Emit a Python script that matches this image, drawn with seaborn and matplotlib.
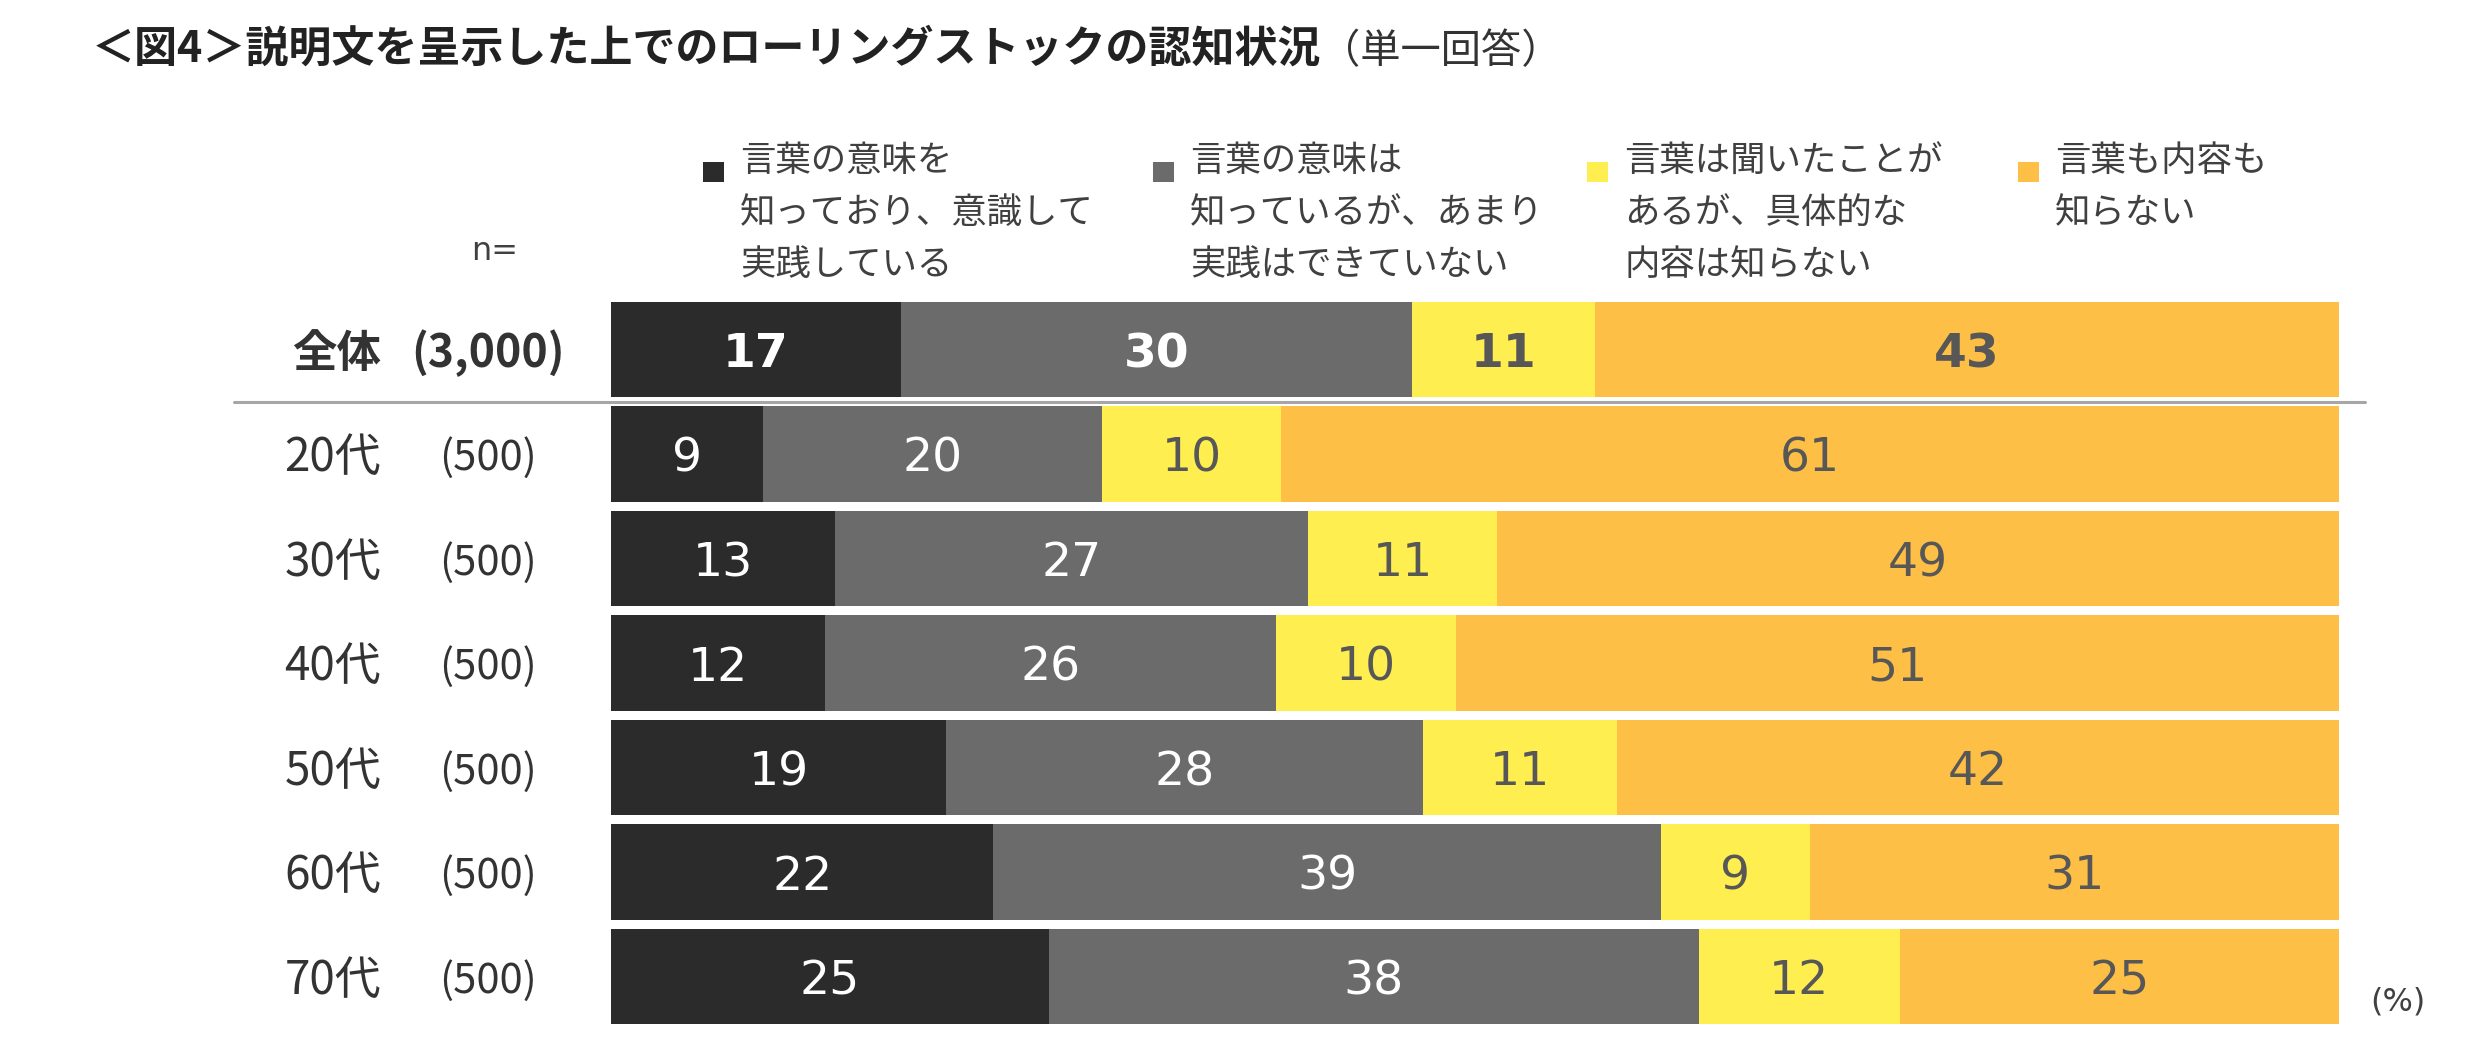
import matplotlib
matplotlib.use("Agg")
import matplotlib.pyplot as plt
import seaborn as sns
import numpy as np
import pandas as pd
from matplotlib.transforms import blended_transform_factory
from matplotlib.patches import Rectangle
from matplotlib.lines import Line2D

# ---------------- data (percent; labels show rounded) ----------------
categories = ["全体", "20代", "30代", "40代", "50代", "60代", "70代"]
n_labels = ["(3,000)", "(500)", "(500)", "(500)", "(500)", "(500)", "(500)"]
series_names = [
    "言葉の意味を\n知っており、意識して\n実践している",
    "言葉の意味は\n知っているが、あまり\n実践はできていない",
    "言葉は聞いたことが\nあるが、具体的な\n内容は知らない",
    "言葉も内容も\n知らない",
]
practice = [16.8, 8.8, 13.0, 12.4, 19.4, 22.1, 25.3]
know_not_practice = [29.6, 19.6, 27.4, 26.1, 27.6, 38.6, 37.6]
heard_only = [10.6, 10.4, 10.9, 10.4, 11.2, 8.6, 11.6]
unknown = [43.1, 61.2, 48.8, 51.1, 41.8, 30.6, 25.4]

title_text = "＜図4＞説明文を呈示した上でのローリングストックの認知状況"
subtitle_text = "（単一回答）"

colors = ["#2B2B2B", "#6B6B6B", "#FFEE50", "#FEBF46"]
label_colors = ["white", "white", "#575757", "#575757"]

# ---------------- style ----------------
sns.set_theme(style="white")
plt.rcParams["font.family"] = ["Noto Sans CJK JP", "DejaVu Sans"]
num_font = ["DejaVu Sans", "Noto Sans CJK JP"]

W, H = 2477, 1051
fig = plt.figure(figsize=(W / 100, H / 100), dpi=100)
fig.patch.set_facecolor("white")

def fx(x):
    return x / W

def fy(y):
    return 1 - y / H

# axes: bars from x=611 to 2339 px, rows centred at 349.5 + 104.5*i
row_step = 104.5
top = 349.5 - row_step / 2
bottom = top + row_step * len(categories)
ax = fig.add_axes([fx(611), fy(bottom), (2339 - 611) / W, (bottom - top) / H])

df = pd.DataFrame({
    "category": categories,
    "s0": practice,
    "s1": know_not_practice,
    "s2": heard_only,
    "s3": unknown,
})
vals = df[["s0", "s1", "s2", "s3"]].to_numpy(dtype=float)
totals = vals.sum(axis=1)
shares = vals / totals[:, None] * 100
cum = shares.cumsum(axis=1)

for j in reversed(range(4)):
    sns.barplot(
        x=cum[:, j], y=df["category"], order=categories, orient="h",
        color=colors[j], saturation=1, width=0.91, linewidth=0, ax=ax,
    )

ax.set_xlim(0, 100)
ax.set_ylim(len(categories) - 0.5, -0.5)
ax.axis("off")

# value labels
for i in range(len(categories)):
    for j in range(4):
        left = cum[i, j] - shares[i, j]
        xc = left + shares[i, j] / 2
        bold = i == 0
        ax.text(xc, i + 0.05, f"{vals[i, j]:.0f}", ha="center", va="center",
                fontsize=34, family=num_font,
                fontweight="bold" if bold else "normal", color=label_colors[j])

# row labels (x in figure coords, y in data coords)
trans = blended_transform_factory(fig.transFigure, ax.transData)
for i, (cat, n) in enumerate(zip(categories, n_labels)):
    bold = i == 0
    fig.text(fx(381), i + 0.04, cat, transform=trans, ha="right", va="center",
             fontsize=32 if bold else 33, fontweight="bold" if bold else "normal",
             color="#333333")
    fig.text(fx(488), i + 0.04, n, transform=trans, ha="center", va="center",
             fontsize=32 if bold else 30, fontweight="bold" if bold else "normal",
             color="#333333")

# separator line under 全体
sep = Line2D([fx(234), fx(2365)], [0.5, 0.5], transform=trans,
             color="#A6A6A6", linewidth=2.2)
fig.add_artist(sep)

# title
fig.text(fx(92), fy(49), title_text, ha="left", va="center",
         fontsize=31, fontweight="bold", color="#222222")
fig.text(fx(1320), fy(52), subtitle_text, ha="left", va="center",
         fontsize=29, color="#333333")

# legend
sq_x = [703, 1153, 1587, 2018]
for j, name in enumerate(series_names):
    fig.patches.append(Rectangle((fx(sq_x[j]), fy(182)), 21 / W, 20 / H,
                                 transform=fig.transFigure, facecolor=colors[j],
                                 edgecolor="none"))
    for k, line in enumerate(name.split("\n")):
        fig.text(fx(sq_x[j] + 37), fy(161 + 52 * k), line, ha="left",
                 va="center", fontsize=25.5, color="#404040")

# n= and (%)
fig.text(fx(495), fy(252), "n=", ha="center", va="center", fontsize=23,
         family=num_font, color="#404040")
fig.text(fx(2398), fy(1002), "(%)", ha="center", va="center", fontsize=23,
         family=num_font, color="#404040")

fig.savefig("out.png", dpi=100, facecolor="white")
